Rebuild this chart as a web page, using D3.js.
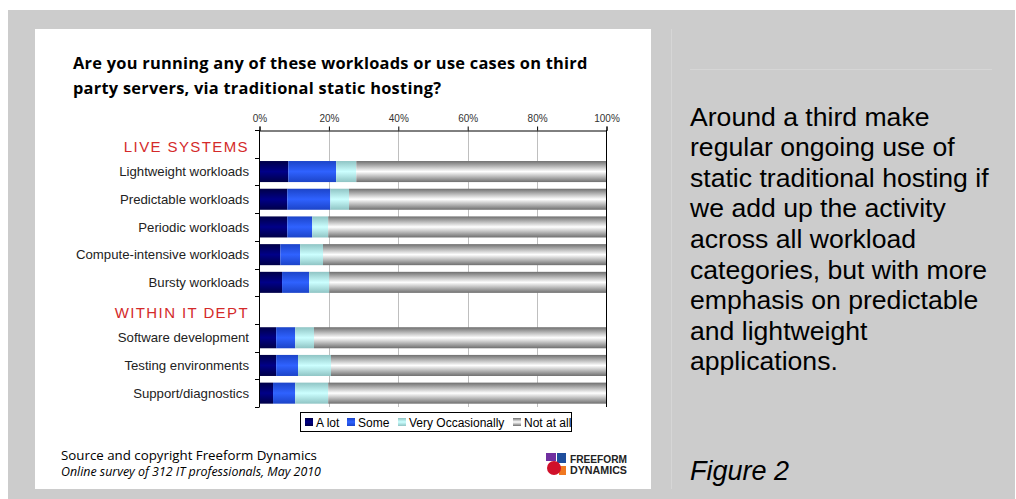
<!DOCTYPE html>
<html>
<head>
<meta charset="utf-8">
<script src="https://cdn.jsdelivr.net/npm/d3@7"></script>
<style>
  body { margin: 0; background: #fff; }
  svg { display: block; }
</style>
</head>
<body>
<script>
// rows of the chart, headers included (they just get an empty band)
const rows = [
  "LIVE SYSTEMS",
  "Lightweight workloads",
  "Predictable workloads",
  "Periodic workloads",
  "Compute-intensive workloads",
  "Bursty workloads",
  "WITHIN IT DEPT",
  "Software development",
  "Testing environments",
  "Support/diagnostics"
];
const headers = ["LIVE SYSTEMS", "WITHIN IT DEPT"];
const workloads = rows.filter(r => !headers.includes(r));

const seriesNames = ["A lot", "Some", "Very Occasionally", "Not at all"];
const aLot     = [8.3, 8.0, 8.0, 6.0, 6.5, 4.8, 4.8, 3.9];
const some     = [13.8, 12.4, 7.2, 5.7, 7.8, 5.5, 6.3, 6.4];
const veryOcc  = [5.8, 5.4, 4.6, 6.6, 5.8, 5.4, 9.5, 9.5];
const notAtAll = [72.1, 74.2, 80.2, 81.7, 79.9, 84.3, 79.4, 80.2];
const tickVals = [0, 20, 40, 60, 80, 100];

const titleLines = [
  "Are you running any of these workloads or use cases on third",
  "party servers, via traditional static hosting?"
];
const commentLines = [
  "Around a third make",
  "regular ongoing use of",
  "static traditional hosting if",
  "we add up the activity",
  "across all workload",
  "categories, but with more",
  "emphasis on predictable",
  "and lightweight",
  "applications."
];

const width = 1016, height = 499;

const svg = d3.select("body").append("svg")
  .attr("width", width)
  .attr("height", height);

// background panels
svg.append("rect").attr("x", 8).attr("y", 10).attr("width", 1007).attr("height", 489).attr("fill", "#cccccc");
svg.append("rect").attr("x", 35).attr("y", 29).attr("width", 616).attr("height", 460).attr("fill", "#ffffff");
svg.append("line").attr("x1", 671.5).attr("x2", 671.5).attr("y1", 29).attr("y2", 489).attr("stroke", "#d6d6d6");
svg.append("line").attr("x1", 690).attr("x2", 992).attr("y1", 69.5).attr("y2", 69.5).attr("stroke", "#d6d6d6");

// gradients for the bar fills
const defs = svg.append("defs");
const grads = [
  { id: "g0", edge: "#000048", mid: "#000088" },
  { id: "g1", edge: "#1c44c8", mid: "#2f62ff" },
  { id: "g2", edge: "#8fc4c4", mid: "#ccffff" },
  { id: "g3", edge: "#6f6f6f", mid: "#ffffff" }
];
grads.forEach(g => {
  const lg = defs.append("linearGradient").attr("id", g.id)
    .attr("x1", 0).attr("x2", 0).attr("y1", 0).attr("y2", 1);
  lg.append("stop").attr("offset", "0%").attr("stop-color", g.edge);
  lg.append("stop").attr("offset", "50%").attr("stop-color", g.mid);
  lg.append("stop").attr("offset", "100%").attr("stop-color", g.edge);
});

// title
svg.append("text")
  .attr("font-family", "Open Sans, sans-serif")
  .attr("font-weight", "bold")
  .attr("font-size", 16.4)
  .attr("letter-spacing", 0.25)
  .attr("fill", "#000")
  .selectAll("tspan").data(titleLines).join("tspan")
  .attr("x", 73)
  .attr("y", (d, i) => 69 + i * 25)
  .text(d => d);

// scales
const x = d3.scaleLinear().domain([0, 100]).range([259.5, 606.5]);
const y = d3.scaleBand().domain(rows).range([130, 407]).paddingInner(0.24).paddingOuter(0.12);
const step = y.step();

// gridlines
svg.append("g").selectAll("line").data(tickVals.filter(t => t > 0 && t < 100)).join("line")
  .attr("x1", d => Math.round(x(d)) + 0.5).attr("x2", d => Math.round(x(d)) + 0.5)
  .attr("y1", 130).attr("y2", 407)
  .attr("stroke", "#bfbfbf");

// stacked bars
const table = workloads.map((w, i) => ({
  name: w, "A lot": aLot[i], "Some": some[i], "Very Occasionally": veryOcc[i], "Not at all": notAtAll[i]
}));
const stack = d3.stack().keys(seriesNames)(table);

svg.append("g").selectAll("g").data(stack).join("g")
  .attr("fill", (d, i) => `url(#g${i})`)
  .selectAll("rect").data(d => d).join("rect")
  .attr("x", d => x(d[0]))
  .attr("width", d => x(Math.min(d[1], 100)) - x(d[0]))
  .attr("y", d => y(d.data.name))
  .attr("height", y.bandwidth());

// top axis
const xAxis = d3.axisTop(x)
  .tickValues(tickVals)
  .tickSize(4)
  .tickPadding(5)
  .tickFormat(d => d + "%");
const xg = svg.append("g").attr("transform", "translate(0,130.5)").call(xAxis);
xg.select(".domain").attr("stroke", "#000");
xg.selectAll(".tick line").attr("stroke", "#000");
xg.selectAll("text")
  .attr("font-family", "Liberation Sans, Arial, sans-serif")
  .attr("font-size", 10)
  .attr("fill", "#333");

// left axis line + boundary ticks, right frame
svg.append("line").attr("x1", 259.5).attr("x2", 259.5).attr("y1", 130).attr("y2", 407).attr("stroke", "#000");
svg.append("line").attr("x1", 606.5).attr("x2", 606.5).attr("y1", 130).attr("y2", 407).attr("stroke", "#000");
svg.append("g").selectAll("line").data(d3.range(rows.length + 1)).join("line")
  .attr("x1", 255).attr("x2", 259.5)
  .attr("y1", i => Math.round(130 + i * step) + 0.5)
  .attr("y2", i => Math.round(130 + i * step) + 0.5)
  .attr("stroke", "#000");

// category labels
svg.append("g").selectAll("text").data(rows).join("text")
  .attr("x", 249)
  .attr("y", d => y(d) + y.bandwidth() / 2 + (headers.includes(d) ? 3 : 0))
  .attr("dy", "0.35em")
  .attr("text-anchor", "end")
  .attr("font-family", "Liberation Sans, Arial, sans-serif")
  .attr("font-size", d => headers.includes(d) ? 15 : 13.2)
  .attr("letter-spacing", d => headers.includes(d) ? 1.4 : 0)
  .attr("fill", d => headers.includes(d) ? "#d42a2a" : "#222")
  .text(d => d);

// legend
const legend = svg.append("g");
legend.append("rect").attr("x", 300.5).attr("y", 412.5).attr("width", 271).attr("height", 19)
  .attr("fill", "#fff").attr("stroke", "#000");
const legX = [305, 347, 398, 513];
const items = legend.selectAll("g").data(seriesNames).join("g")
  .attr("transform", (d, i) => `translate(${legX[i]},418)`);
items.append("rect").attr("width", 8).attr("height", 8)
  .attr("fill", (d, i) => `url(#g${i})`);
items.append("text").attr("x", 11).attr("y", 4.5).attr("dy", "0.35em")
  .attr("font-family", "Liberation Sans, Arial, sans-serif")
  .attr("font-size", 12)
  .attr("fill", "#000")
  .text(d => d);

// source
svg.append("text").attr("x", 61).attr("y", 460)
  .attr("font-family", "Open Sans, sans-serif").attr("font-size", 13.3).attr("fill", "#000")
  .text("Source and copyright Freeform Dynamics");
svg.append("text").attr("x", 61).attr("y", 476)
  .attr("font-family", "Open Sans, sans-serif").attr("font-style", "italic").attr("font-size", 12.4).attr("fill", "#000")
  .text("Online survey of 312 IT professionals, May 2010");

// logo
const logo = svg.append("g").attr("transform", "translate(546,453)");
logo.append("rect").attr("x", 0).attr("y", 0).attr("width", 10).attr("height", 8).attr("fill", "#7030a0");
logo.append("rect").attr("x", 11).attr("y", 0).attr("width", 9).attr("height", 10).attr("fill", "#1f4e9c");
logo.append("rect").attr("x", 13).attr("y", 13).attr("width", 7).attr("height", 9).attr("fill", "#f07820");
logo.append("circle").attr("cx", 8).attr("cy", 15).attr("r", 7).attr("fill", "#d0102a");
logo.selectAll("text.logo").data(["FREEFORM", "DYNAMICS"]).join("text")
  .attr("x", 24).attr("y", (d, i) => 9.5 + i * 11.5)
  .attr("font-family", "Liberation Sans Narrow, Liberation Sans, sans-serif")
  .attr("font-weight", "bold").attr("font-size", 10.5).attr("fill", "#222")
  .attr("textLength", 57).attr("lengthAdjust", "spacingAndGlyphs")
  .text(d => d);

// comment text on the right
svg.append("text")
  .attr("font-family", "Liberation Sans, Arial, sans-serif")
  .attr("font-size", 26.6)
  .attr("fill", "#000")
  .selectAll("tspan").data(commentLines).join("tspan")
  .attr("x", 690)
  .attr("y", (d, i) => 125.5 + i * 30.6)
  .text(d => d);

svg.append("text").attr("x", 690).attr("y", 480)
  .attr("font-family", "Liberation Sans, Arial, sans-serif")
  .attr("font-style", "italic").attr("font-size", 27).attr("fill", "#000")
  .text("Figure 2");
</script>
</body>
</html>
